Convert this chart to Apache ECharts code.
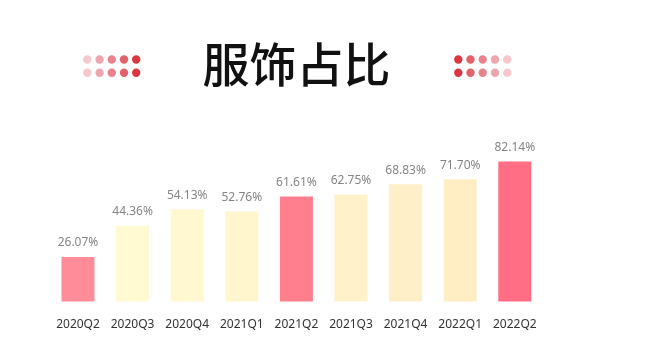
<!DOCTYPE html>
<html><head><meta charset="utf-8">
<script src="https://cdn.jsdelivr.net/npm/echarts@6/dist/echarts.min.js"></script>
<style>html,body{margin:0;padding:0;background:#fff}#c{width:649px;height:359px}</style>
</head><body><div id="c"></div>
<script>
const title = '服饰占比';
const categories = ['2020Q2','2020Q3','2020Q4','2021Q1','2021Q2','2021Q3','2021Q4','2022Q1','2022Q2'];
const values = [26.07, 44.36, 54.13, 52.76, 61.61, 62.75, 68.83, 71.70, 82.14];
const barColors = ['#FF8C99','#FFFAD2','#FFF8D0','#FFF6CE','#FF7F8F','#FFF2CB','#FFEFC8','#FFEDC4','#FF6E84'];
const dotColors = ['#F5C8CD','#EFA5AD','#E8828B','#E2626C','#DC3741'];

const graphic = [];
const rowsY = [59.5, 72.7];
const leftX = [87.3, 99.6, 111.8, 124, 136.2];
const rightX = [458.3, 470.5, 482.7, 495, 507.3];
rowsY.forEach(y => {
  leftX.forEach((x, i) => graphic.push({type:'circle', shape:{cx:x, cy:y, r:4.2}, style:{fill:dotColors[i]}}));
  rightX.forEach((x, i) => graphic.push({type:'circle', shape:{cx:x, cy:y, r:4.2}, style:{fill:dotColors[4 - i]}}));
});
graphic.push({type:'text', x:296.5, y:64, style:{text:title, font:'500 47px "Noto Sans CJK SC"', fill:'#111', align:'center', verticalAlign:'middle'}});

const chart = echarts.init(document.getElementById('c'));
chart.setOption({
  backgroundColor:'#fff',
  animation:false,
  graphic: graphic,
  grid:{left:50.7, right:106.9, top:131.1, bottom:57.5},
  xAxis:{type:'category', data:categories,
    axisLine:{show:false}, axisTick:{show:false},
    axisLabel:{interval:0, color:'#333', fontSize:12, margin:17, fontFamily:'"Noto Sans", sans-serif'}},
  yAxis:{type:'value', min:0, max:100, show:false, splitLine:{show:false}},
  series:[{type:'bar', data:values.map((v,i)=>({value:v, itemStyle:{color:barColors[i]}})),
    barWidth:33,
    label:{show:true, position:'top', distance:8, color:'#858585', fontSize:12, fontFamily:'"Noto Sans", sans-serif',
      formatter:p=>p.value.toFixed(2)+'%'}}]
});
</script></body></html>
